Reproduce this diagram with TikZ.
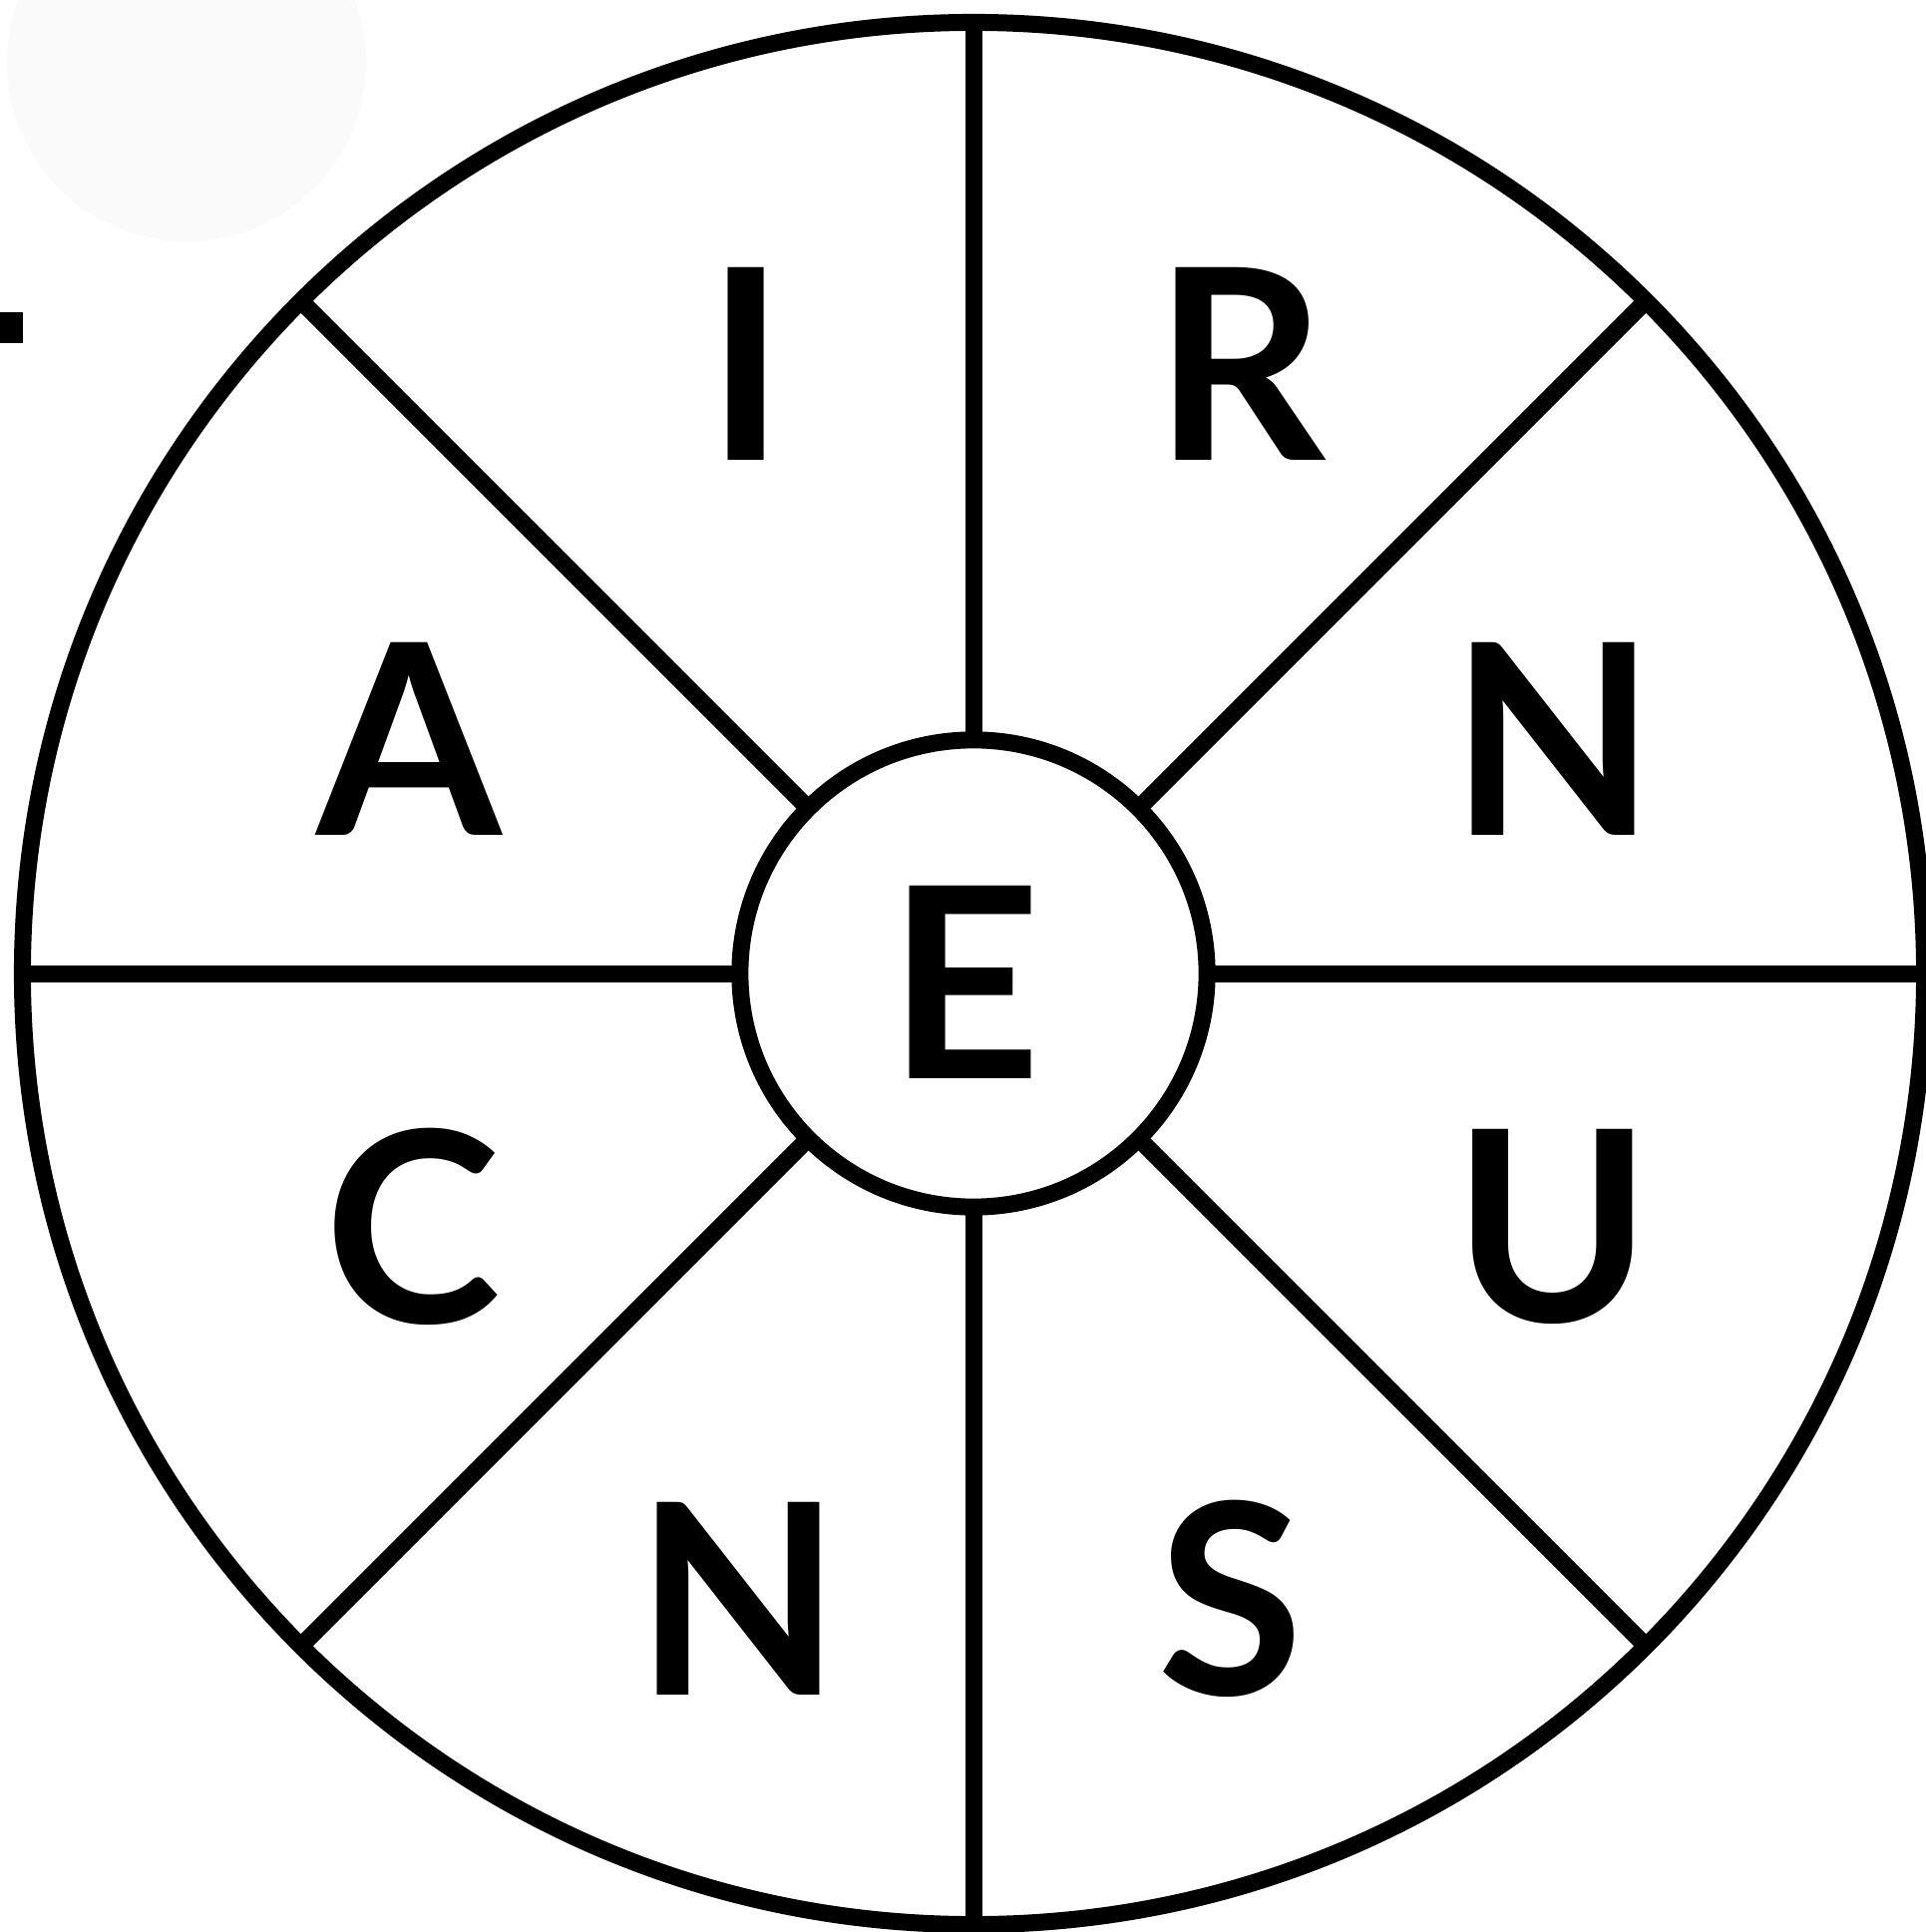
\documentclass[tikz,border=0pt]{standalone}
\usepackage{fontspec}
\setmainfont{Lato}
\usetikzlibrary{positioning}
\definecolor{faint}{HTML}{FAFAFA}

\begin{document}
\begin{tikzpicture}[x=0.01cm,y=-0.01cm,line width=0.17cm,
    ring/.style={draw,circle,inner sep=0pt,outer sep=0pt},
    letter/.style={inner sep=0pt,font=\fontsize{76}{76}\selectfont\bfseries}]
  \useasboundingbox (0,0) rectangle (1931,1937);
  \fill[faint] (187,62) circle[radius=1.8cm];
  \fill (0,313) rectangle (23,344);

  % wheel
  \node[ring,minimum size=19.06cm] (rim) at (976,976) {};
  \node[ring,minimum size=4.68cm] (hub) at (976,976) {};
  \foreach \a in {0,45,...,315}
    \draw (hub.\a) -- (rim.\a);

  % letters
  \node[letter] (top1) at (748,365) {I};
  \node[letter] (top2) at (1243,365) {R};
  \node[letter] (right1) at (1557,741) {N};
  \node[letter] (right2) at (1557,1230) {U};
  \node[letter] (bot2) at (1234,1603) {S};
  \node[letter] (bot1) at (740,1603) {N};
  \node[letter] (left2) at (414,1230) {C};
  \node[letter] (left1) at (410,741) {A};
  \node[letter] (mid) at (967,985) {E};
\end{tikzpicture}
\end{document}
